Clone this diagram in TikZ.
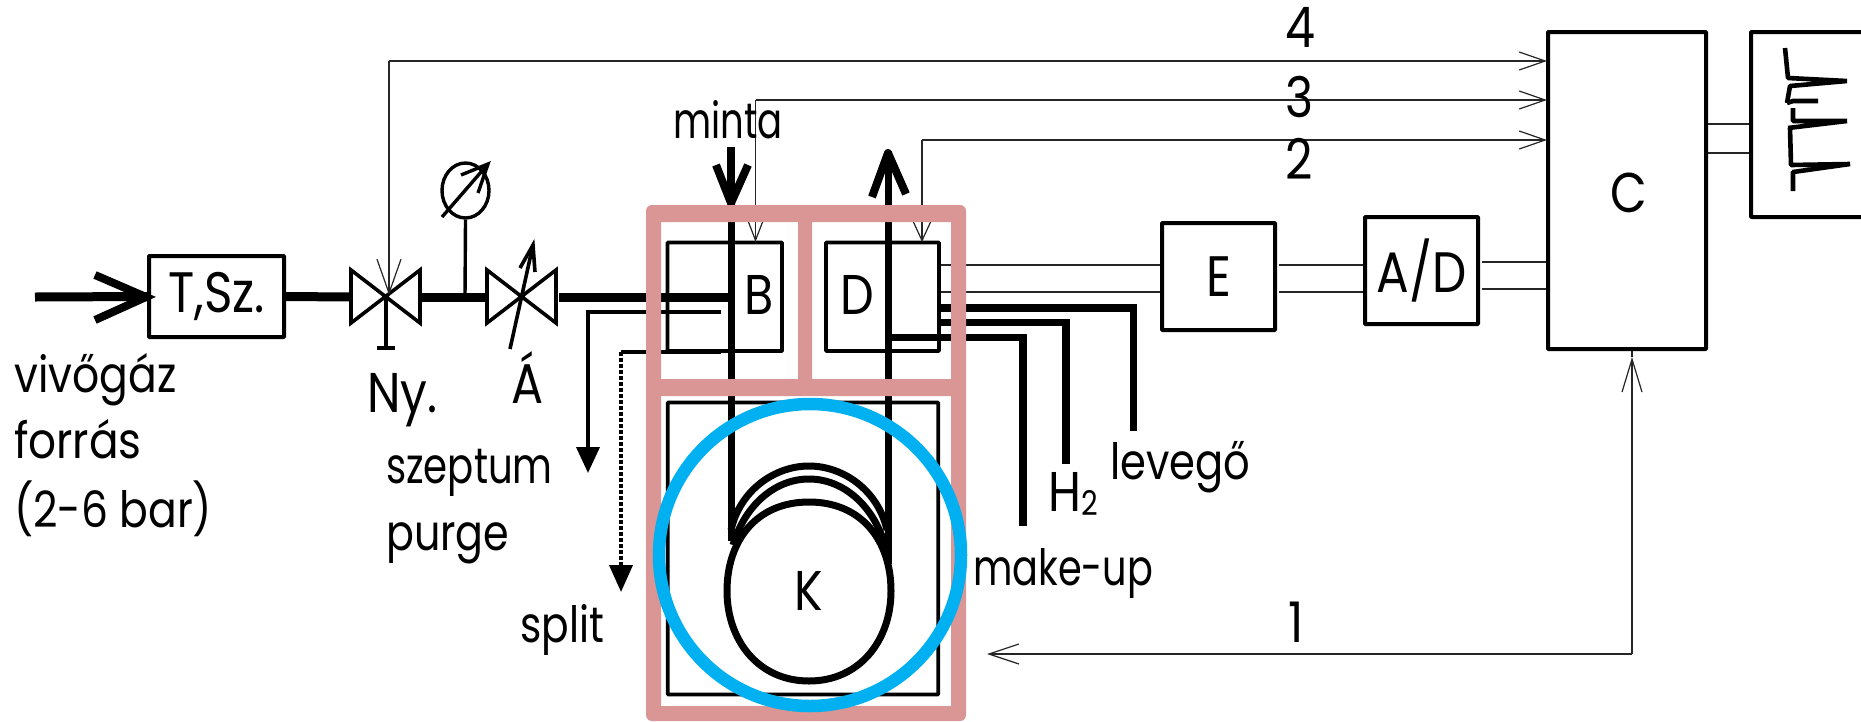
\documentclass[tikz,border=0pt]{standalone}
\usepackage{fontspec}
\setmainfont{Poppins}[FakeStretch=0.85]
\usetikzlibrary{arrows.meta,shapes.geometric}
\definecolor{framepink}{HTML}{D99694}
\definecolor{ringblue}{HTML}{00B0F0}
\newcommand{\hs}[2]{\scalebox{#1}[1]{#2}}
\tikzset{
  box/.style={draw=black,line width=4pt,fill=white,inner sep=0pt,rounded corners=0.8pt,font=\fontsize{57}{57}\selectfont},
  opbox/.style={draw=black,line width=3.8pt,inner sep=0pt,rounded corners=0.8pt},
  lbl/.style={inner sep=0pt,anchor=base west,font=\fontsize{50}{50}\selectfont},
  biglbl/.style={inner sep=0pt,anchor=base west,font=\fontsize{56}{56}\selectfont},
  inlbl/.style={inner sep=0pt,font=\fontsize{56}{56}\selectfont},
  pipe/.style={line width=9pt,black},
  tube/.style={line width=7pt,black},
  gasline/.style={line width=7.5pt,black,line join=miter},
  ventline/.style={line width=3.8pt,black},
  sig/.style={line width=1.2pt,black!85},
  sigtip/.style={line width=1.2pt,black!85,-{Straight Barb[length=26pt,width=18pt,line width=1.2pt]}},
  valveshape/.style={draw=black,line width=3.6pt,line join=miter},
  trace/.style={line width=4.6pt,black,line join=bevel}
}
\begin{document}
\begin{tikzpicture}[x=1pt,y=-1pt]
\useasboundingbox (0,0) rectangle (1861,721);
\clip (0,0) rectangle (1861,721);
\fill[white] (0,0) rectangle (1861,721);

% named anchors
\coordinate (src) at (35,297);
\coordinate (nyc) at (386,297);
\coordinate (nyl) at (351,297);
\coordinate (nyr) at (420,297);
\coordinate (ac)  at (522,297);
\coordinate (al)  at (487,297);
\coordinate (ar)  at (556,297);
\coordinate (ny4) at (389,295);
\coordinate (gj)  at (465,297);
\coordinate (nyb) at (386,348);

% boxes
\node[box,minimum width=135,minimum height=81] (tsz) at (216.5,296.5) {T,Sz.};
\node[box,minimum width=113,minimum height=107] (e) at (1218.5,276.5) {E};
\node[box,minimum width=113,minimum height=107] (ad) at (1421.5,270.5) {A/D};
\node[box,minimum width=158,minimum height=317] (c) at (1627,190.5) {};
\node[inlbl] (clbl) at (1629,193) {C};
\node[box,minimum width=130,minimum height=185] (rec) at (1816,124.5) {};
\node[opbox,minimum width=114.5,minimum height=108.5] (b) at (724.8,296.8) {};
\node[opbox,minimum width=113,minimum height=108.5] (d) at (882.5,296.8) {};
\node[opbox,minimum width=270.5,minimum height=292] (kb) at (803,548.5) {};

% carrier gas line
\draw[pipe] (src) -- (tsz.west);
\draw[line width=8pt] (95,275) -- (146,297) -- (95,320);
\draw[pipe] (tsz.east) -- (nyl);
\draw[pipe] (nyr) -- (al);
\coordinate (bin) at (731,297);
\draw[pipe] (ar) ++(3,0) -- (bin);

% valves
\draw[valveshape] (351,270) -- (420,323) -- (420,270) -- (351,323) -- cycle;
\draw[valveshape] (487,270) -- (556,323) -- (556,270) -- (487,323) -- cycle;
\draw[line width=3.6pt] (nyc) -- (nyb);
\draw[line width=4.4pt] (377,348) -- (395,348);
\draw[line width=3.6pt] (510,349) -- (533,245);
\draw[line width=3.6pt] (520,268) -- (533,245) -- (535,272);

% manometer
\node[ellipse,draw=black,line width=3.4pt,minimum width=47,minimum height=55,inner sep=0pt] (gauge) at (465.5,190.5) {};
\draw[line width=3.4pt] (gj) -- (gauge.south);
\draw[line width=3.4pt] (442,217) -- (488,164);
\draw[line width=3.4pt] (461,175) -- (488,164) -- (478,193);

% column tube
\coordinate (mintatop) at (731,147);
\coordinate (mintatip) at (731,203);
\coordinate (outtip) at (888,151);
\draw[line width=8pt] (mintatop) -- (mintatip);
\draw[line width=8pt,line join=miter] (716,165) -- (731,203) -- (748,165);
\draw[line width=8pt,line join=round] (872,197) -- (888,153) -- (906,194);
\draw[tube] (mintatip) -- (731,541);
\draw[tube] (outtip) -- (888,564);
\draw[tube] (731,530) .. controls (740,490) and (775,466) .. (809,466) .. controls (843,466) and (878,490) .. (887,530);
\draw[tube] (733,545) .. controls (745,505) and (775,479) .. (809,479) .. controls (843,479) and (873,505) .. (885,545);
\node[inlbl] (kc) at (809,591) {K};
\draw[tube] (809,502) .. controls (862,502) and (891,541) .. (891,591) .. controls (891,640) and (860,681) .. (809,681) .. controls (758,681) and (727,640) .. (727,591) .. controls (727,541) and (756,502) .. (809,502) -- cycle;

% purge and split
\coordinate (sepin) at (721,312);
\coordinate (sepout) at (588,473);
\coordinate (splin) at (721,352);
\coordinate (splout) at (621,592);
\draw[ventline,-{Triangle[length=26pt,width=23pt]}] (sepin) -| (sepout);
\draw[ventline] (splin) -- (621,352);
\draw[ventline,dash pattern=on 4pt off 2pt,-{Triangle[length=27pt,width=23pt]}] (621,352) -- (splout);

% detector gases
\coordinate (lev) at (1133.5,431);
\coordinate (hyd) at (1066,464);
\coordinate (mk) at (1023,525.5);
\draw[gasline] (d.east |- 0,308) -| (lev);
\draw[gasline] (d.east |- 0,322.5) -| (hyd);
\draw[gasline] (888,337.5) -| (mk);

% signal lines
\coordinate (c4) at (1547,61);
\coordinate (c3) at (1547,100);
\coordinate (c2) at (1547,140);
\coordinate (btop) at (755.5,242);
\coordinate (dtop) at (922,242);
\coordinate (k1) at (987,654);
\coordinate (c1) at (1632,357);
\draw[sigtip] (389,61) -- (c4);
\draw[sig,-{Straight Barb[length=34pt,width=24pt,line width=1.2pt]}] (389,61) -- (ny4);
\draw[sigtip] (755.5,100) -- (c3);
\draw[sig,-{Straight Barb[length=26pt,width=20pt,line width=1.2pt]}] (755.5,100) -- (btop);
\draw[sigtip] (922,140) -- (c2);
\draw[sig,-{Straight Barb[length=26pt,width=24pt,line width=1.2pt]}] (922,140) -- (dtop);
\draw[sig,-{Straight Barb[length=30pt,width=20pt,line width=1.2pt]}] (1632,654) -- (k1);
\draw[sig,-{Straight Barb[length=33pt,width=20pt,line width=1.2pt]}] (1632,654) -- (c1);
\draw[sig] (c1) -- (c.south -| c1);

\draw[sig] (d.east |- 0,265) -- (e.west |- 0,265);
\draw[sig] (d.east |- 0,292) -- (e.west |- 0,292);
\draw[sig] (1278.5,265) -- (ad.west |- 0,265);
\draw[sig] (1278.5,292) -- (ad.west |- 0,292);
\draw[sig] (1482,262) -- (c.west |- 0,262);
\draw[sig] (1482,289) -- (c.west |- 0,289);
\draw[sig] (c.east |- 0,124) -- (rec.west |- 0,124);
\draw[sig] (c.east |- 0,153) -- (rec.west |- 0,153);

% chromatogram
\draw[trace] (1785,48) -- (1788,78) -- (1847,81) -- (1790,86) -- (1787,103);
\draw[trace] (1787,103) -- (1793,101) -- (1818,101);
\draw[trace] (1793,108) -- (1793,121) -- (1847,121) -- (1788,128);
\draw[trace] (1790,128) -- (1791,165) -- (1850,164) -- (1793,172) -- (1793,191);

% frame and ring
\fill[framepink,even odd rule,rounded corners=6pt] (646,205) rectangle (966,721)
  [sharp corners] (661,222) rectangle (798,379) (812,222) rectangle (951,379) (661,396) rectangle (951,706);
\node[circle,draw=ringblue,line width=12.5pt,minimum size=302,inner sep=0pt] (ring) at (810,555) {};

% box letters
\node[inlbl] (blbl) at (759,295) {B};
\node[inlbl] (dlbl) at (857,295) {D};

% labels
\node[lbl] (t1) at (14,392) {\hs{1}{vivőgáz}};
\node[lbl] (t2) at (14,458) {\hs{1.03}{forrás}};
\node[lbl] (t3) at (14,527) {\hs{1}{(2-6 bar)}};
\node[biglbl] (t4) at (367,412) {Ny.};
\node[biglbl] (t5) at (511,403) {Á};
\node[lbl] (t6) at (386,483) {\hs{0.91}{szeptum}};
\node[lbl] (t7) at (386,550) {\hs{0.97}{purge}};
\node[lbl] (t8) at (520,642) {\hs{0.96}{split}};
\node[lbl] (t9) at (673,138) {\hs{0.87}{minta}};
\node[biglbl] (t10) at (1048,511) {H\raisebox{-4pt}{\fontsize{34}{34}\selectfont 2}};
\node[lbl] (t11) at (1110,479) {\hs{0.98}{levegő}};
\node[lbl] (t12) at (973,585) {\hs{0.9}{make-up}};
\node[biglbl] (n4) at (1285,47) {4};
\node[biglbl] (n3) at (1285,117) {3};
\node[biglbl] (n2) at (1285,179) {2};
\node[biglbl] (n1) at (1288,642) {1};
\end{tikzpicture}
\end{document}
